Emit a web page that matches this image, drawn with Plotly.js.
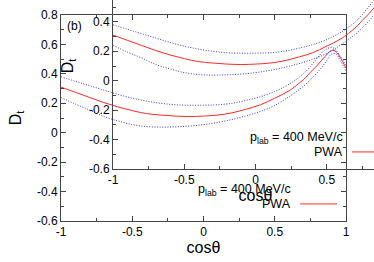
<!DOCTYPE html>
<html><head><meta charset="utf-8">
<script src="https://cdn.plot.ly/plotly-3.0.1.min.js"></script>
<style>
html,body{margin:0;padding:0;background:#fff;overflow:hidden;width:374px;height:262px;position:relative;}
.pl{position:absolute;width:374px;height:262px;}
#outer{left:0;top:0;}
#inner{left:52px;top:-52px;}
</style></head><body>
<div id="outer" class="pl"></div><div id="inner" class="pl"></div>
<script>
const cosTheta = [-1,-0.9,-0.8,-0.7,-0.6,-0.5,-0.4,-0.3,-0.2,-0.1,0,0.1,0.2,0.3,0.4,0.5,0.6,0.7,0.75,0.8,0.85,0.9,0.93,0.96,1.0];
const pwa      = [0.31,0.275,0.24,0.205,0.175,0.15,0.13,0.12,0.113,0.11,0.113,0.12,0.135,0.16,0.19,0.235,0.285,0.36,0.41,0.46,0.515,0.56,0.55,0.51,0.44];
const pwaUpper = [0.38,0.35,0.32,0.29,0.26,0.235,0.215,0.2,0.19,0.187,0.187,0.19,0.2,0.22,0.245,0.28,0.33,0.4,0.45,0.51,0.56,0.58,0.56,0.52,0.46];
const pwaLower = [0.24,0.195,0.155,0.11,0.08,0.055,0.042,0.038,0.04,0.045,0.055,0.07,0.09,0.115,0.145,0.185,0.245,0.315,0.36,0.41,0.47,0.535,0.535,0.49,0.42];

const xTickVals = [-1,-0.5,0,0.5,1];
const xTickText = ['-1','-0.5','0','0.5','1'];
const xMinorVals = [-0.75,-0.25,0.25,0.75];
const yTickVals = [-0.6,-0.4,-0.2,0,0.2,0.4,0.6,0.8];
const yTickText = ['-0.6','-0.4','-0.2','0','0.2','0.4','0.6','0.8'];
const yMinorVals = [-0.5,-0.3,-0.1,0.1,0.3,0.5,0.7];

const panelLabel = '(b)';
const legendTitle = 'p<sub>lab</sub> = 400 MeV/c';
const seriesName = 'PWA';

function traces(){
  const blue = {color:'#3a3aff',width:1,dash:'1px,1.6px',shape:'spline'};
  return [
    {x:cosTheta,y:pwaUpper,mode:'lines',line:blue,hoverinfo:'skip'},
    {x:cosTheta,y:pwaLower,mode:'lines',line:blue,hoverinfo:'skip'},
    {x:cosTheta,y:pwa,mode:'lines',name:seriesName,line:{color:'#ff2a2a',width:1,shape:'spline'},hoverinfo:'skip'}
  ];
}

function layout(){
  const ax = {
    ticks:'inside',ticklen:5,tickcolor:'#444',tickwidth:1,
    showline:true,linecolor:'#444',linewidth:1,mirror:'ticks',
    showgrid:false,zeroline:false,tickmode:'array',automargin:false,
    tickfont:{size:12,color:'#000'}
  };
  return {
    width:374,height:262,
    margin:{l:61,r:28,t:15,b:41,pad:0},
    paper_bgcolor:'rgba(0,0,0,0)',plot_bgcolor:'rgba(0,0,0,0)',
    showlegend:false,
    font:{family:'Liberation Sans, Arial, sans-serif',size:12,color:'#000'},
    xaxis:Object.assign({},ax,{range:[-1,1],tickvals:xTickVals,ticktext:xTickText,
      minor:{tickvals:xMinorVals,ticks:'inside',ticklen:3,tickcolor:'#444'},
      title:{text:'cosθ',font:{size:16},standoff:3}}),
    yaxis:Object.assign({},ax,{range:[-0.6,0.8],tickvals:yTickVals,ticktext:yTickText,
      minor:{tickvals:yMinorVals,ticks:'inside',ticklen:3,tickcolor:'#444'},
      title:{text:'D<sub>t</sub>',font:{size:16},standoff:11}}),
    annotations:[
      {x:-0.902,y:0.727,xref:'x',yref:'y',text:panelLabel,showarrow:false,font:{size:12}},
      {x:0.629,y:-0.389,xref:'x',yref:'y',text:legendTitle,showarrow:false,xanchor:'right',font:{size:12.5}},
      {x:0.629,y:-0.484,xref:'x',yref:'y',text:seriesName,showarrow:false,xanchor:'right',font:{size:12.5}}
    ],
    shapes:[
      {type:'line',xref:'x',yref:'y',x0:0.678,x1:0.937,y0:-0.484,y1:-0.484,line:{color:'#ff2a2a',width:1}}
    ]
  };
}
const cfg = {staticPlot:true,displayModeBar:false};
Plotly.newPlot('outer',traces(),layout(),cfg);
Plotly.newPlot('inner',traces(),layout(),cfg);
</script>
</body></html>
